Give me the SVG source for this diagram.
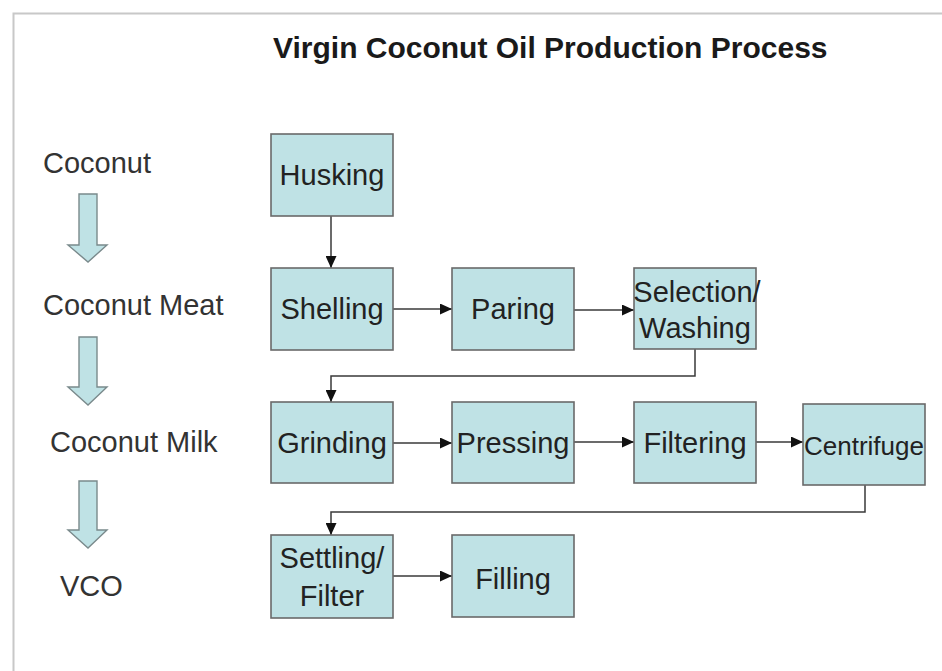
<svg xmlns="http://www.w3.org/2000/svg" width="942" height="671" viewBox="0 0 942 671">
<style>
.box{fill:#bfe2e5;stroke:#6a6a6a;stroke-width:1.6}
.blk{fill:#bfe2e5;stroke:#7a8a8c;stroke-width:1.4}
.t{font-family:"Liberation Sans",Arial,sans-serif;font-size:29px;fill:#222;text-anchor:middle}
.l{font-family:"Liberation Sans",Arial,sans-serif;font-size:29px;fill:#333}
.title{font-family:"Liberation Sans",Arial,sans-serif;font-size:30px;font-weight:bold;fill:#1a1a1a}
.c{fill:none;stroke:#3a3a3a;stroke-width:1.5}
</style>
<defs>
<marker id="ah" markerWidth="12" markerHeight="11" refX="12" refY="5.5" orient="auto" markerUnits="userSpaceOnUse">
<path d="M0,0 L12,5.5 L0,11 Z" fill="#111"/>
</marker>
</defs>
<rect x="0" y="0" width="942" height="671" fill="#fff"/>
<g id="frame">
<path d="M13.5,671 L13.5,13.5 L942,13.5" fill="none" stroke="#c8c8c8" stroke-width="2"/>
</g>
<text class="title" x="273" y="58">Virgin Coconut Oil Production Process</text>
<g id="stages">
<text class="l" x="43" y="173">Coconut</text>
<path class="blk" d="M79,194 H97 V245 H107 L88,262 L68,245 H79 Z"/>
<text class="l" x="43" y="315">Coconut Meat</text>
<path class="blk" d="M79,337 H97 V387 H107 L88,405 L68,387 H79 Z"/>
<text class="l" x="50" y="452">Coconut Milk</text>
<path class="blk" d="M79,481 H97 V530 H107 L88,548 L68,530 H79 Z"/>
<text class="l" x="60" y="596">VCO</text>
</g>
<g id="connectors">
<line class="c" x1="331" y1="216" x2="331" y2="268" marker-end="url(#ah)"/>
<line class="c" x1="393" y1="309" x2="452" y2="309" marker-end="url(#ah)"/>
<line class="c" x1="574" y1="310" x2="634" y2="310" marker-end="url(#ah)"/>
<polyline class="c" points="695,349 695,376 331,376 331,402" marker-end="url(#ah)"/>
<line class="c" x1="393" y1="443" x2="452" y2="443" marker-end="url(#ah)"/>
<line class="c" x1="574" y1="442" x2="634" y2="442" marker-end="url(#ah)"/>
<line class="c" x1="756" y1="442" x2="803" y2="442" marker-end="url(#ah)"/>
<polyline class="c" points="865,485 865,512 331,512 331,535" marker-end="url(#ah)"/>
<line class="c" x1="393" y1="576" x2="452" y2="576" marker-end="url(#ah)"/>
</g>
<g id="husking"><rect class="box" x="271" y="134" width="122" height="82"/><text class="t" x="332" y="185">Husking</text></g>
<g id="shelling"><rect class="box" x="271" y="268" width="122" height="82"/><text class="t" x="332" y="319">Shelling</text></g>
<g id="paring"><rect class="box" x="452" y="268" width="122" height="82"/><text class="t" x="513" y="319">Paring</text></g>
<g id="selection"><rect class="box" x="634" y="268" width="122" height="81"/><text class="t" x="697" y="302">Selection/</text><text class="t" x="695" y="338">Washing</text></g>
<g id="grinding"><rect class="box" x="271" y="402" width="122" height="81"/><text class="t" x="332" y="453">Grinding</text></g>
<g id="pressing"><rect class="box" x="452" y="402" width="122" height="81"/><text class="t" x="513" y="453">Pressing</text></g>
<g id="filtering"><rect class="box" x="634" y="402" width="122" height="81"/><text class="t" x="695" y="453">Filtering</text></g>
<g id="centrifuge"><rect class="box" x="803" y="404" width="122" height="81"/><text class="t" x="864" y="455" style="font-size:26px">Centrifuge</text></g>
<g id="settling"><rect class="box" x="271" y="535" width="122" height="83"/><text class="t" x="332" y="568">Settling/</text><text class="t" x="332" y="606">Filter</text></g>
<g id="filling"><rect class="box" x="452" y="535" width="122" height="82"/><text class="t" x="513" y="589">Filling</text></g>
</svg>
